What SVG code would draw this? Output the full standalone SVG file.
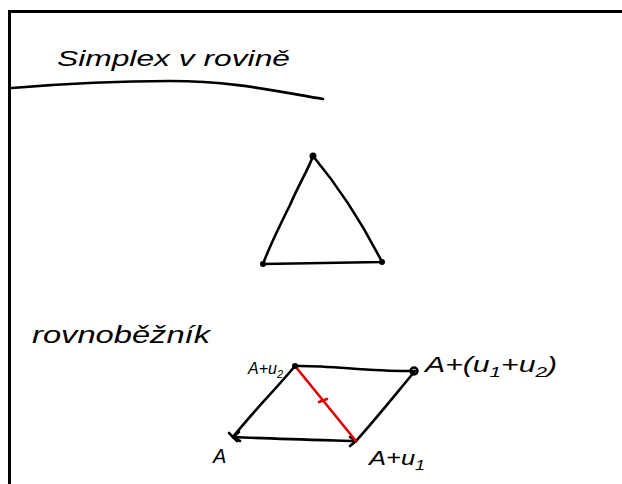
<svg xmlns="http://www.w3.org/2000/svg" width="622" height="484" viewBox="0 0 622 484">
<style>
.ink{fill:none;stroke:#000;stroke-width:2.6;stroke-linecap:round;stroke-linejoin:round}
.red{fill:none;stroke:#e00000;stroke-width:2.6;stroke-linecap:round;stroke-linejoin:round}
.t{font-family:"Liberation Sans","DejaVu Sans",sans-serif;font-style:italic;fill:#000}
.dot{fill:#000}
</style>
<rect width="622" height="484" fill="#fff"/>
<g id="frame">
<path d="M9.5 484 V11.5 H622" fill="none" stroke="#000" stroke-width="3"/>
</g>
<g id="title">
<text class="t" x="57" y="66" font-size="22" textLength="233" lengthAdjust="spacingAndGlyphs">Simplex v rovině</text>
<path class="ink" d="M12 88 C60 84 110 81 170 81 C230 81 270 90 323 99"/>
</g>
<g id="simplex">
<path class="ink" d="M313 156 C308 170 300 182 290 205 C280 225 270 245 263 264 L382 262 Q352 203 313 156 Z"/>
<circle class="dot" cx="313" cy="156" r="3.5"/>
<circle class="dot" cx="263" cy="264" r="3"/>
<circle class="dot" cx="382" cy="262" r="3"/>
</g>
<g id="label-rovnobeznik">
<text class="t" x="32" y="343" font-size="24" textLength="178" lengthAdjust="spacingAndGlyphs">rovnoběžník</text>
</g>
<g id="connectors">
<path class="ink" d="M233 437 C250 415 275 390 295 366"/>
<path class="ink" d="M295 366 C330 365 370 372 415 371"/>
<path class="ink" d="M415 371 C395 395 375 420 356 441"/>
<path class="ink" d="M233 437 C275 439 320 440 356 441"/>
<path class="ink" d="M350 437 L356 441 L350 446"/>
<path class="ink" d="M239 432 L233 437 L240 441"/>
<path class="red" d="M295 366 L356 441"/>
<path class="red" d="M319 402 L327 399"/>
</g>
<g id="vertices">
<circle class="dot" cx="295" cy="366" r="3"/>
<circle cx="414" cy="371" r="3.5" fill="none" stroke="#000" stroke-width="2.5"/>
<path class="ink" d="M229 433 L237 441"/>
</g>
<g id="labels">
<text class="t" x="248" y="374" font-size="16">A+u<tspan dy="4" font-size="11">2</tspan></text>
<text class="t" x="425" y="372" font-size="22" textLength="132" lengthAdjust="spacingAndGlyphs">A+(u<tspan dy="5" font-size="15">1</tspan><tspan dy="-5">+u</tspan><tspan dy="5" font-size="15">2</tspan><tspan dy="-5">)</tspan></text>
<text class="t" x="213" y="463" font-size="20">A</text>
<text class="t" x="369" y="465" font-size="20" textLength="56" lengthAdjust="spacingAndGlyphs">A+u<tspan dy="5" font-size="14">1</tspan></text>
</g>
</svg>
